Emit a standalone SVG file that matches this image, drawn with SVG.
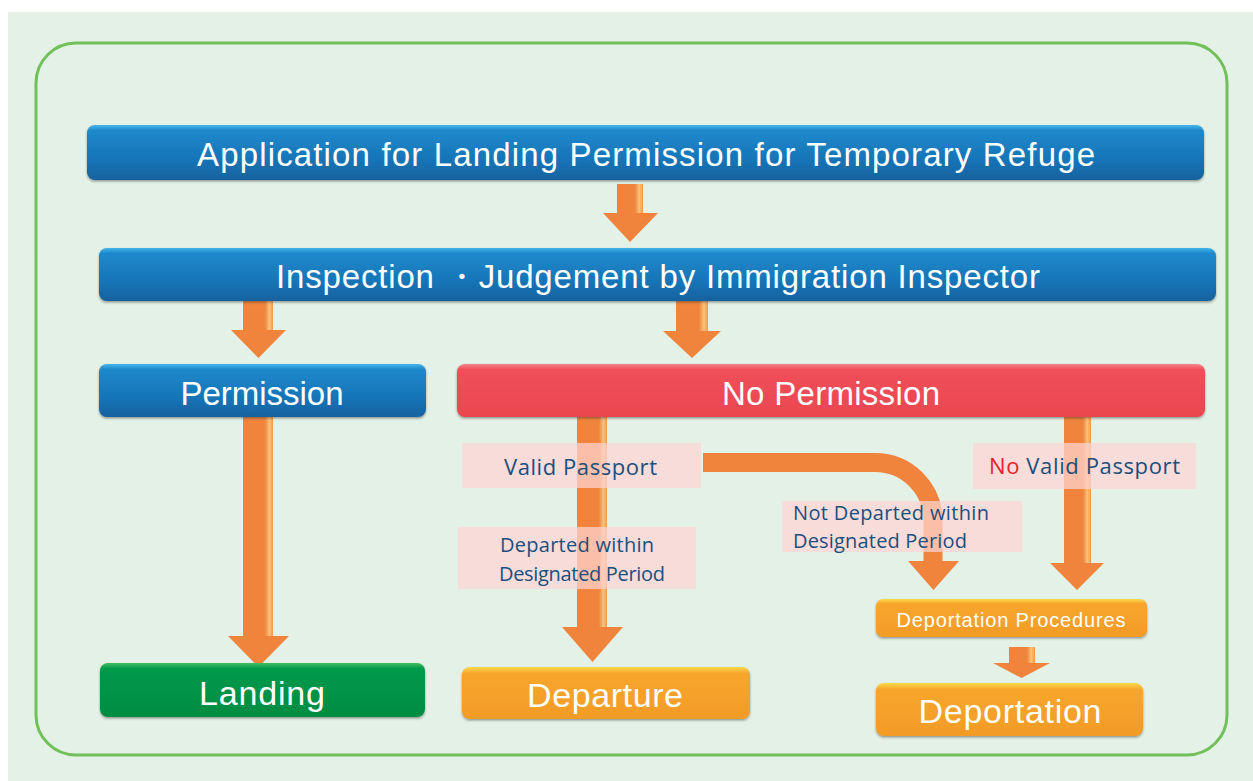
<svg xmlns="http://www.w3.org/2000/svg" width="1253" height="781" viewBox="0 0 1253 781">
<defs>
<style>
.bt{font-family:"Liberation Sans",Arial,sans-serif;fill:#fff;text-anchor:middle}
.lt{font-family:"Open Sans","Noto Sans",sans-serif;fill:#1B4F7E}
.lab{fill:#FFD4D4;fill-opacity:0.72}
.arr{fill:#F0843C}
.hl{fill:url(#gHl)}
</style>
<linearGradient id="gHl" x1="0" y1="0" x2="1" y2="0">
<stop offset="0" stop-color="#F0843C"/><stop offset="0.55" stop-color="#FBC27A"/><stop offset="1" stop-color="#F3984C"/>
</linearGradient>
<linearGradient id="gBlue" x1="0" y1="0" x2="0" y2="1">
<stop offset="0" stop-color="#45B6EA"/><stop offset="0.1" stop-color="#1E89CB"/><stop offset="0.6" stop-color="#1776B9"/><stop offset="1" stop-color="#15629F"/>
</linearGradient>
<linearGradient id="gRed" x1="0" y1="0" x2="0" y2="1">
<stop offset="0" stop-color="#F6858A"/><stop offset="0.1" stop-color="#F05059"/><stop offset="1" stop-color="#E9464F"/>
</linearGradient>
<linearGradient id="gGreen" x1="0" y1="0" x2="0" y2="1">
<stop offset="0" stop-color="#40BD62"/><stop offset="0.1" stop-color="#069A4B"/><stop offset="1" stop-color="#008C42"/>
</linearGradient>
<linearGradient id="gOrange" x1="0" y1="0" x2="0" y2="1">
<stop offset="0" stop-color="#FDDA4A"/><stop offset="0.12" stop-color="#F7A62C"/><stop offset="1" stop-color="#F29B27"/>
</linearGradient>
<filter id="sh" x="-5%" y="-20%" width="110%" height="150%">
<feDropShadow dx="0" dy="1.5" stdDeviation="1" flood-color="#2a2a2a" flood-opacity="0.45"/>
</filter>
</defs>
<rect x="0" y="0" width="1253" height="781" fill="#ffffff"/>
<rect x="8" y="12" width="1245" height="769" fill="#E3F1E6"/>
<rect x="36" y="43" width="1191" height="712" rx="40" ry="40" fill="none" stroke="#72C05A" stroke-width="3"/>

<g id="connectors">
<path class="arr" d="M617 184 H643 V213 H658 L630 242 L603 213 H617 Z"/>
<rect class="hl" x="635" y="184" width="8" height="29"/>
<path class="arr" d="M243 301 H273 V330 H286 L258.5 358 L231 330 H243 Z"/>
<rect class="hl" x="265" y="301" width="8" height="29"/>
<path class="arr" d="M676 301 H708 V331 H721 L692 358 L663 331 H676 Z"/>
<rect class="hl" x="699" y="301" width="9" height="30"/>
<path class="arr" d="M243 417 H273 V636 H289 L258.5 667 L228 636 H243 Z"/>
<rect class="hl" x="265" y="417" width="8" height="219"/>
<path class="arr" d="M577 417 H607 V627 H623 L592.5 662 L562 627 H577 Z"/>
<rect class="hl" x="599" y="417" width="8" height="210"/>
<path d="M703 462.5 H875 A58 58 0 0 1 933 520.5 V562" fill="none" stroke="#F0843C" stroke-width="19"/>
<path class="arr" d="M908 561 H959 L933.5 590 Z"/>
<path class="arr" d="M1064 417 H1091 V563 H1104 L1077 590 L1050 563 H1064 Z"/>
<rect class="hl" x="1083" y="417" width="8" height="146"/>
<path class="arr" d="M1009 647 H1035 V663 H1050 L1021.5 678 L993 663 H1009 Z"/>
<rect class="hl" x="1027" y="647" width="8" height="16"/>
</g>

<g id="n-application">
<rect x="87" y="125" width="1117" height="55" rx="8" fill="url(#gBlue)" filter="url(#sh)"/>
<text class="bt" x="646" y="166" font-size="33" textLength="898">Application for Landing Permission for Temporary Refuge</text>
</g>
<g id="n-inspection">
<rect x="99" y="248" width="1117" height="53" rx="8" fill="url(#gBlue)" filter="url(#sh)"/>
<text class="bt" x="658" y="288" font-size="33" textLength="764">Inspection ・Judgement by Immigration Inspector</text>
</g>
<g id="n-permission">
<rect x="99" y="364" width="327" height="53" rx="8" fill="url(#gBlue)" filter="url(#sh)"/>
<text class="bt" x="262" y="405" font-size="33" textLength="163">Permission</text>
</g>
<g id="n-nopermission">
<rect x="457" y="364" width="748" height="53" rx="8" fill="url(#gRed)" filter="url(#sh)"/>
<text class="bt" x="831" y="405" font-size="33" textLength="218">No Permission</text>
</g>
<g id="n-landing">
<rect x="100" y="663" width="325" height="54" rx="8" fill="url(#gGreen)" filter="url(#sh)"/>
<text class="bt" x="262" y="705" font-size="34" textLength="126">Landing</text>
</g>
<g id="n-departure">
<rect x="462" y="667" width="288" height="52" rx="8" fill="url(#gOrange)" filter="url(#sh)"/>
<text class="bt" x="605" y="707" font-size="34" textLength="156">Departure</text>
</g>
<g id="n-procedures">
<rect x="876" y="599" width="271" height="38" rx="7" fill="url(#gOrange)" filter="url(#sh)"/>
<text class="bt" x="1011" y="627" font-size="20" textLength="229">Deportation Procedures</text>
</g>
<g id="n-deportation">
<rect x="876" y="683" width="267" height="53" rx="8" fill="url(#gOrange)" filter="url(#sh)"/>
<text class="bt" x="1010" y="723" font-size="34" textLength="183">Deportation</text>
</g>

<g id="l-valid">
<rect class="lab" x="462" y="443" width="239" height="45"/>
<text class="lt" x="504" y="475" font-size="22" textLength="153">Valid Passport</text>
</g>
<g id="l-departed">
<rect class="lab" x="458" y="527" width="238" height="62"/>
<text class="lt" x="500" y="552" font-size="20" textLength="154">Departed within</text>
<text class="lt" x="499" y="581" font-size="20" textLength="166">Designated Period</text>
</g>
<g id="l-notdeparted">
<rect class="lab" x="782" y="501" width="240" height="51"/>
<text class="lt" x="793" y="520" font-size="20" textLength="196">Not Departed within</text>
<text class="lt" x="793" y="548" font-size="20" textLength="174">Designated Period</text>
</g>
<g id="l-novalid">
<rect class="lab" x="973" y="443" width="223" height="46"/>
<text class="lt" x="989" y="474" font-size="22" textLength="191"><tspan fill="#E8202A">No</tspan> Valid Passport</text>
</g>
</svg>
